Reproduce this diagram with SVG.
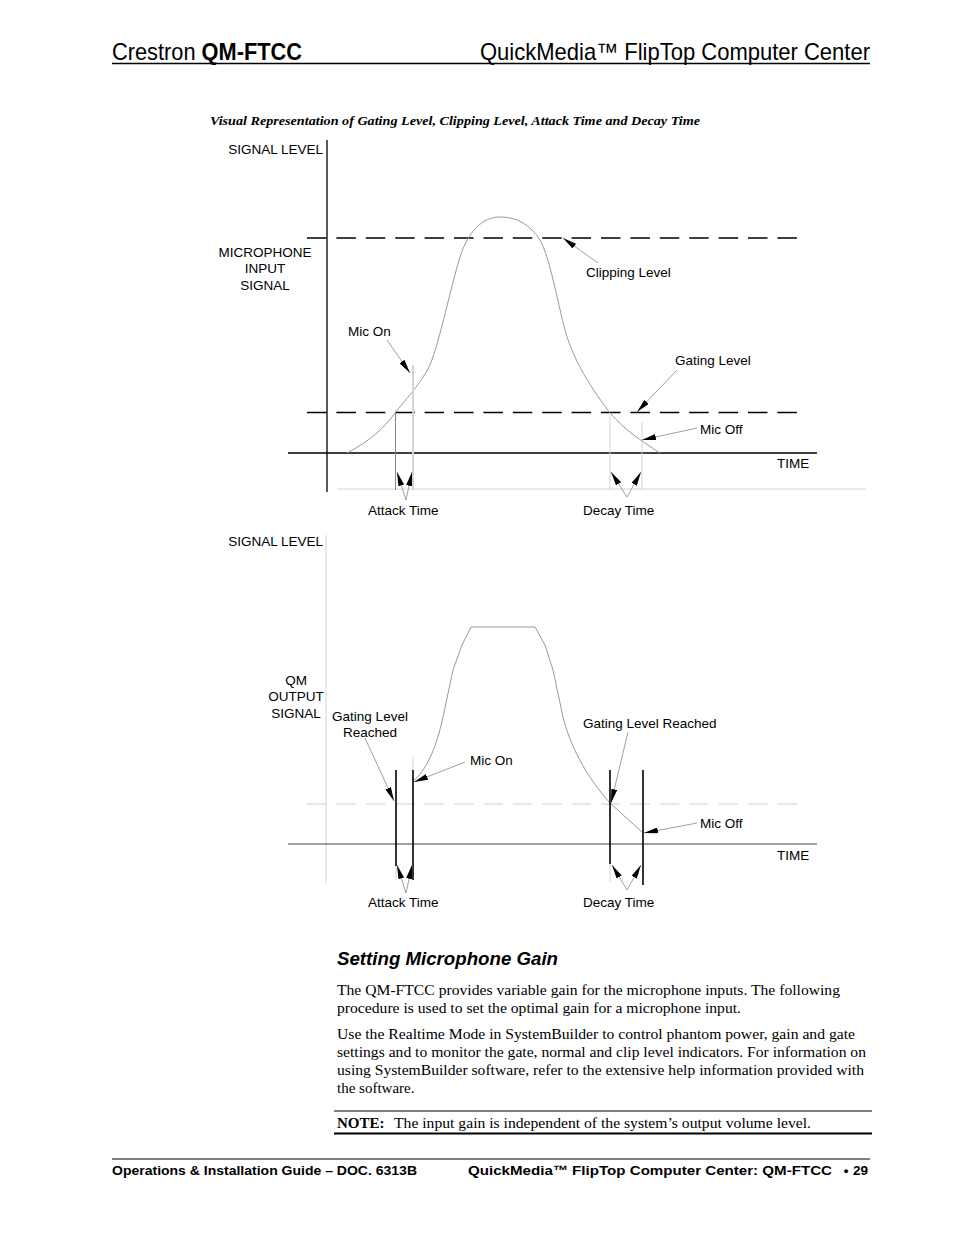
<svg xmlns="http://www.w3.org/2000/svg" width="954" height="1235" viewBox="0 0 954 1235">
<style>
.lbl{font-family:"Liberation Sans",Arial,sans-serif;font-size:13.5px;fill:#000}
.body{font-family:"Liberation Serif","Times New Roman",serif;font-size:15px;fill:#000}
.hdr{font-family:"Liberation Sans",Arial,sans-serif;font-size:24px;fill:#000}
.ftr{font-family:"Liberation Sans",Arial,sans-serif;font-size:13.5px;font-weight:bold;fill:#000}
.axis{stroke:#000;stroke-width:1.3;fill:none}
.dash{stroke:#000;stroke-width:1.3;stroke-dasharray:19.5 9.9;fill:none}
.ldash{stroke:#d0d0d0;stroke-width:1;stroke-dasharray:19.5 9.9;fill:none}
.curve{stroke:#999;stroke-width:1;fill:none}
.lead{stroke:#888;stroke-width:0.8;fill:none;marker-end:url(#ah)}
.thick{stroke:#000;stroke-width:1.6;fill:none}
.light{stroke:#d4d4d4;stroke-width:1;fill:none}
</style>
<defs>
<marker id="ah" markerUnits="userSpaceOnUse" markerWidth="14" markerHeight="6" refX="14" refY="3" orient="auto" viewBox="0 0 14 6">
<path d="M0,0 L14,3 L0,6 z" fill="#000"/>
</marker>
</defs>
<rect width="954" height="1235" fill="#fff"/>

<g id="header">
<text class="hdr" x="112" y="60" textLength="190" lengthAdjust="spacingAndGlyphs">Crestron <tspan font-weight="bold">QM-FTCC</tspan></text>
<text class="hdr" x="480" y="60" textLength="390" lengthAdjust="spacingAndGlyphs">QuickMedia™ FlipTop Computer Center</text>
<line x1="112" y1="63.5" x2="870" y2="63.5" stroke="#000" stroke-width="1.6"/>
</g>

<g id="caption">
<text x="210" y="125" font-family="'Liberation Serif','Times New Roman',serif" font-size="13" font-weight="bold" font-style="italic" textLength="490" lengthAdjust="spacingAndGlyphs">Visual Representation of Gating Level, Clipping Level, Attack Time and Decay Time</text>
</g>

<g id="top-chart">
<line class="axis" x1="327" y1="140" x2="327" y2="492"/>
<line class="axis" x1="288" y1="453" x2="817" y2="453"/>
<line class="light" x1="337" y1="489" x2="866" y2="489"/>
<path class="dash" d="M307,238 L797,238"/>
<path class="dash" d="M307,412.5 L797,412.5"/>
<path class="curve" d="M347,453 C360,446 378,436 395,413 C405,400 420,385 430,365 C440,340 450,290 460,257 C468,232 482,217 500,217 C518,217 530,225 540,240 C550,258 557,300 565,330 C572,355 585,380 610,413 C625,430 640,440 660,453"/>
<line x1="413" y1="365" x2="413" y2="490" stroke="#d4d4d4" stroke-width="2"/>
<line x1="395.5" y1="413" x2="395.5" y2="490" stroke="#888" stroke-width="1"/>
<line class="light" x1="610" y1="413" x2="610" y2="490"/>
<line class="light" x1="642" y1="422" x2="642" y2="490"/>
</g>

<g id="top-labels">
<text class="lbl" x="323" y="154" text-anchor="end">SIGNAL LEVEL</text>
<text class="lbl" x="265" y="257" text-anchor="middle">MICROPHONE</text>
<text class="lbl" x="265" y="273" text-anchor="middle">INPUT</text>
<text class="lbl" x="265" y="290" text-anchor="middle">SIGNAL</text>
<text class="lbl" x="586" y="277">Clipping Level</text>
<text class="lbl" x="348" y="336">Mic On</text>
<text class="lbl" x="675" y="365">Gating Level</text>
<text class="lbl" x="700" y="434">Mic Off</text>
<text class="lbl" x="777" y="468">TIME</text>
<text class="lbl" x="368" y="515">Attack Time</text>
<text class="lbl" x="583" y="515">Decay Time</text>
</g>

<g id="bottom-chart">
<line x1="326" y1="535" x2="326" y2="883" stroke="#d4d4d4" stroke-width="1"/>
<line x1="288" y1="844" x2="817" y2="844" stroke="#444" stroke-width="1"/>
<path class="ldash" d="M307,804 L797,804"/>
<path class="curve" d="M413,781 C425,772 436,750 443,717 L453,670 L462,645 L471,627 L535,627 L545,645 L553,670 L563,717 C570,745 585,775 610,803 L643,833"/>
<line class="light" x1="413" y1="757" x2="413" y2="770"/>
<line class="light" x1="396" y1="865" x2="396" y2="880"/>
<line class="light" x1="610" y1="863" x2="610" y2="882"/>
<line class="thick" x1="396" y1="770" x2="396" y2="866"/>
<line class="thick" x1="413" y1="770" x2="413" y2="880"/>
<line class="thick" x1="610" y1="770" x2="610" y2="864"/>
<line class="thick" x1="643" y1="770" x2="643" y2="885"/>
</g>

<g id="bottom-labels">
<text class="lbl" x="323" y="546" text-anchor="end">SIGNAL LEVEL</text>
<text class="lbl" x="296" y="685" text-anchor="middle">QM</text>
<text class="lbl" x="296" y="701" text-anchor="middle">OUTPUT</text>
<text class="lbl" x="296" y="718" text-anchor="middle">SIGNAL</text>
<text class="lbl" x="370" y="721" text-anchor="middle">Gating Level</text>
<text class="lbl" x="370" y="737" text-anchor="middle">Reached</text>
<text class="lbl" x="470" y="765">Mic On</text>
<text class="lbl" x="583" y="728">Gating Level Reached</text>
<text class="lbl" x="700" y="828">Mic Off</text>
<text class="lbl" x="777" y="860">TIME</text>
<text class="lbl" x="368" y="907">Attack Time</text>
<text class="lbl" x="583" y="907">Decay Time</text>
</g>

<g id="connectors">
<path class="lead" d="M598,263 L563,238"/>
<path class="lead" d="M387,340 L410,373"/>
<path class="lead" d="M677,370 L637,412"/>
<path class="lead" d="M697,428 L642,440"/>
<path class="lead" d="M406,500 L397,472"/>
<path class="lead" d="M406,500 L412,472"/>
<path class="lead" d="M627,497 L611,472"/>
<path class="lead" d="M627,497 L641,472"/>
<path class="lead" d="M365,738 L394,801"/>
<path class="lead" d="M465,762 L414,782"/>
<path class="lead" d="M628,732 L611,803"/>
<path class="lead" d="M697,823 L644,833"/>
<path class="lead" d="M406,893 L397,865"/>
<path class="lead" d="M406,893 L412,865"/>
<path class="lead" d="M627,890 L612,865"/>
<path class="lead" d="M627,890 L641,865"/>
</g>

<g id="section">
<text x="337" y="965" font-family="'Liberation Sans',Arial,sans-serif" font-size="18.5" font-weight="bold" font-style="italic" textLength="221" lengthAdjust="spacingAndGlyphs">Setting Microphone Gain</text>
<text class="body" x="337" y="995" textLength="503" lengthAdjust="spacingAndGlyphs">The QM-FTCC provides variable gain for the microphone inputs. The following</text>
<text class="body" x="337" y="1013" textLength="404" lengthAdjust="spacingAndGlyphs">procedure is used to set the optimal gain for a microphone input.</text>
<text class="body" x="337" y="1039" textLength="518" lengthAdjust="spacingAndGlyphs">Use the Realtime Mode in SystemBuilder to control phantom power, gain and gate</text>
<text class="body" x="337" y="1057" textLength="529" lengthAdjust="spacingAndGlyphs">settings and to monitor the gate, normal and clip level indicators. For information on</text>
<text class="body" x="337" y="1075" textLength="527" lengthAdjust="spacingAndGlyphs">using SystemBuilder software, refer to the extensive help information provided with</text>
<text class="body" x="337" y="1093">the software.</text>
<line x1="334" y1="1111" x2="872" y2="1111" stroke="#000" stroke-width="1"/>
<text class="body" x="337" y="1128" font-weight="bold">NOTE:</text>
<text class="body" x="394" y="1128" textLength="417" lengthAdjust="spacingAndGlyphs">The input gain is independent of the system’s output volume level.</text>
<line x1="334" y1="1133.5" x2="872" y2="1133.5" stroke="#000" stroke-width="2"/>
</g>

<g id="footer">
<line x1="112" y1="1159" x2="870" y2="1159" stroke="#000" stroke-width="1"/>
<text class="ftr" x="112" y="1175" textLength="305" lengthAdjust="spacingAndGlyphs">Operations &amp; Installation Guide – DOC. 6313B</text>
<text class="ftr" x="468" y="1175" textLength="364" lengthAdjust="spacingAndGlyphs">QuickMedia™ FlipTop Computer Center: QM-FTCC</text>
<text class="ftr" x="846" y="1175" text-anchor="middle">•</text>
<text class="ftr" x="868" y="1175" text-anchor="end">29</text>
</g>
</svg>
